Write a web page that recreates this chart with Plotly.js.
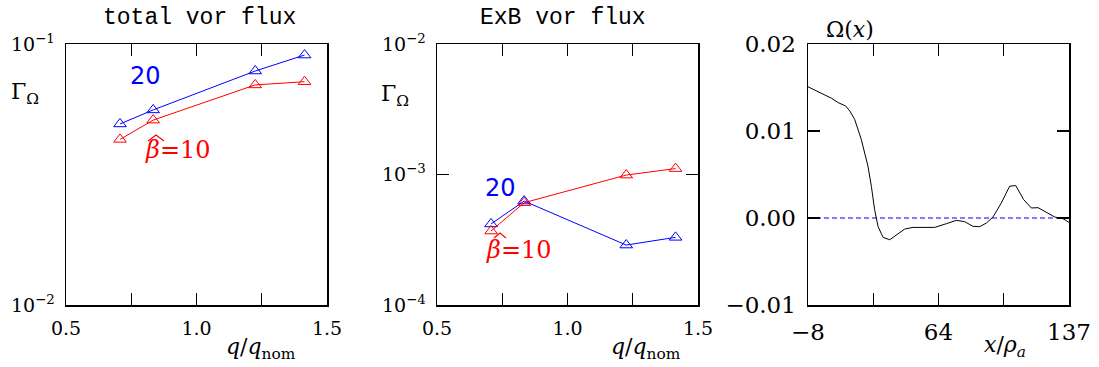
<!DOCTYPE html>
<html><head><meta charset="utf-8">
<script src="https://cdn.plot.ly/plotly-3.0.1.min.js"></script>
<style>html,body{margin:0;padding:0;background:#fff}</style>
</head><body><div id="chart" style="width:1099px;height:367px"></div>
<script>
// ---- data ----
const qRatio = [0.707, 0.834, 1.225, 1.414];
const totalFlux20 = [0.0494, 0.0559, 0.0788, 0.0907];
const totalFlux10 = [0.0431, 0.0511, 0.0697, 0.0717];
const exbFlux20 = [4.18e-4, 6.26e-4, 2.88e-4, 3.30e-4];
const exbFlux10 = [3.69e-4, 6.08e-4, 9.9e-4, 1.11e-3];
const xRho = [-8, -1.5, 5, 8.7, 12.9, 15.2, 17.9, 21.6, 25.3, 27.2, 29.0, 30.9, 33.7, 37.4, 41.1, 45.7, 50.3, 55.9, 62.4, 68.9, 74.4, 79.0, 83.7, 87.4, 91.1, 94.8, 99.4, 104.0, 107.4, 111.8, 116.1, 119.8, 124.4, 129.0, 133.7, 137];
const omega = [0.01508, 0.01442, 0.01377, 0.01327, 0.01288, 0.01231, 0.01135, 0.00904, 0.00596, 0.00365, 0.00096, -0.00096, -0.00223, -0.0025, -0.00192, -0.00127, -0.00108, -0.00108, -0.00108, -0.00065, -0.00027, -0.00042, -0.00096, -0.0010, -0.00058, 0.00012, 0.00173, 0.00365, 0.00373, 0.00212, 0.00115, 0.00119, 0.00065, 0.00012, -0.00008, -0.0005];
const zeroX = [-8, 137];
const zeroY = [0, 0];
const qTickVals = [0.5, 0.75, 1.0, 1.25, 1.5];
const qTickText = ['0.5', ' ', '1.0', ' ', '1.5'];
const logTickVals1 = [0.01, 0.1];
const logTickText1 = ['10<sup>\u22122</sup>', '10<sup>\u22121</sup>'];
const logTickVals2 = [1e-4, 1e-3, 1e-2];
const logTickText2 = ['10<sup>\u22124</sup>', '10<sup>\u22123</sup>', '10<sup>\u22122</sup>'];
const xRhoTickVals = [-8, 28.25, 64.5, 100.75, 137];
const xRhoTickText = ['\u22128', ' ', '64', ' ', '137'];
const omegaTickVals = [-0.01, 0, 0.01, 0.02];
const omegaTickText = ['\u22120.01', '0.00', '0.01', '0.02'];

const W = 1099, H = 367;
const px = x => x / W, py = y => 1 - y / H;
const serif = '"DejaVu Serif", serif';
const mono = '"Liberation Mono", monospace';
const sans = '"DejaVu Sans", sans-serif';

function mk(x, y, color, xa, ya) {
  return {x, y, xaxis: xa, yaxis: ya, type: 'scatter', mode: 'lines+markers',
    line: {color, width: 1},
    marker: {symbol: 'triangle-up-open', size: 11, color, line: {color, width: 1}},
    showlegend: false, hoverinfo: 'skip'};
}
const traces = [
  mk(qRatio, totalFlux20, '#0000ff', 'x', 'y'),
  mk(qRatio, totalFlux10, '#ff0000', 'x', 'y'),
  mk(qRatio, exbFlux20, '#0000ff', 'x2', 'y2'),
  mk(qRatio, exbFlux10, '#ff0000', 'x2', 'y2'),
  {x: zeroX, y: zeroY, xaxis: 'x3', yaxis: 'y3', mode: 'lines', line: {color: '#0000ff', width: 1, dash: '5px,3px'}, showlegend: false, hoverinfo: 'skip'},
  {x: xRho, y: omega, xaxis: 'x3', yaxis: 'y3', mode: 'lines', line: {color: '#000000', width: 1}, showlegend: false, hoverinfo: 'skip'}
];

const common = {showline: true, linecolor: '#000', linewidth: 1.5, mirror: 'ticks', ticks: 'inside', ticklen: 12, tickwidth: 1.2, tickcolor: '#000', showgrid: false, zeroline: false, tickmode: 'array', fixedrange: true};
function xax(dom, range, tv, tt, fs) { return Object.assign({}, common, {domain: dom, range, tickvals: tv, ticktext: tt, tickfont: {family: serif, size: fs, color: '#000'}, ticklabelstandoff: 6}); }
function yax(dom, range, tv, tt, fs, type, anchor) { return Object.assign({}, common, {domain: dom, range, tickvals: tv, ticktext: tt, type, anchor, tickfont: {family: serif, size: fs, color: '#000'}, ticklabelstandoff: 6}); }

const yd = [py(305), py(44)];
// hat accent over beta (text decoration), in page pixels
function hat(cx, top, halfW, h) {
  return {type: 'path', xref: 'paper', yref: 'paper',
    path: `M ${px(cx - halfW)},${py(top + h)} L ${px(cx)},${py(top)} L ${px(cx + halfW)},${py(top + h)}`,
    line: {color: '#ff0000', width: 1.2}};
}
const layout = {
  width: W, height: H, margin: {l: 0, r: 0, t: 0, b: 0}, paper_bgcolor: '#fff', plot_bgcolor: '#fff', showlegend: false,
  font: {family: serif},
  xaxis: Object.assign(xax([px(66), px(327)], [0.5, 1.5], qTickVals, qTickText, 19), {anchor: 'y'}),
  yaxis: yax(yd, [-2, -1], logTickVals1, logTickText1, 19, 'log', 'x'),
  xaxis2: Object.assign(xax([px(437), px(698)], [0.5, 1.5], qTickVals, qTickText, 19), {anchor: 'y2'}),
  yaxis2: yax(yd, [-4, -2], logTickVals2, logTickText2, 19, 'log', 'x2'),
  xaxis3: Object.assign(xax([px(808), px(1069)], [-8, 137], xRhoTickVals, xRhoTickText, 23), {anchor: 'y3'}),
  yaxis3: yax(yd, [-0.01, 0.02], omegaTickVals, omegaTickText, 23, 'linear', 'x3'),
  shapes: [hat(156, 135, 8, 6), hat(500, 233, 6, 5)],
  annotations: []
};
function ann(text, x, y, size, color, family, xanchor) {
  layout.annotations.push({text, x: px(x), y: py(y), xref: 'paper', yref: 'paper', showarrow: false,
    xanchor: xanchor || 'center', yanchor: 'middle', font: {family: family || serif, size, color: color || '#000'}});
}
ann('total vor flux', 199, 18, 23, '#000', mono);
ann('ExB vor flux', 563, 18, 23, '#000', mono);
ann('\u03a9(<i>x</i>)', 850, 30, 22);
ann('\u0393<sub>\u03a9</sub>', 25, 93, 22);
ann('\u0393<sub>\u03a9</sub>', 395, 96, 22);
ann('<i>q</i>/<i>q</i><sub>nom</sub>', 261, 348, 22);
ann('<i>q</i>/<i>q</i><sub>nom</sub>', 646, 348, 22);
ann('<i>x</i>/<i>\u03c1</i><sub><i>a</i></sub>', 1005, 346, 22);
ann('20', 145, 76, 24, '#0000ff', sans);
ann('<i>\u03b2</i>=10', 178, 150, 24, '#ff0000', serif);
ann('20', 500, 188, 24, '#0000ff', sans);
ann('<i>\u03b2</i>=10', 519, 250, 24, '#ff0000', serif);

Plotly.newPlot('chart', traces, layout, {displayModeBar: false, staticPlot: true});
</script></body></html>
